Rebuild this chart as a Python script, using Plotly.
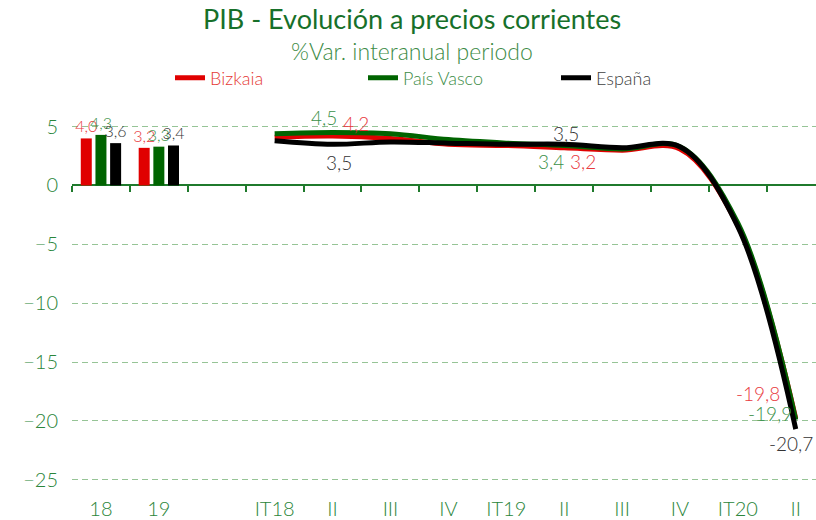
import plotly.graph_objects as go

# ---------------- data ----------------
categories = ["18", "19", "", "IT18", "II", "III", "IV", "IT19", "II", "III", "IV", "IT20", "II"]
annual_idx = [0, 1]
quarter_idx = list(range(3, 13))

series_names = ["Bizkaia", "País Vasco", "España"]

annual_bizkaia = [4.0, 3.2]
annual_pv = [4.3, 3.3]
annual_esp = [3.6, 3.4]

q_bizkaia = [4.1, 4.2, 4.0, 3.5, 3.4, 3.2, 3.0, 3.1, -3.4, -19.8]
q_pv = [4.4, 4.5, 4.4, 3.9, 3.6, 3.4, 3.1, 3.3, -3.2, -19.9]
q_esp = [3.8, 3.5, 3.7, 3.6, 3.5, 3.5, 3.2, 3.3, -3.5, -20.7]

# labelled quarterly points: index in quarterly list -> (xshift, yshift) in px
lab_bizkaia = {1: (23, 13), 5: (19, -14), 9: (-38, 25)}
lab_pv = {1: (-9, 15), 5: (-13, -16), 9: (-26, 6)}
lab_esp = {1: (6, -18), 5: (2, 11), 9: (-5, -14)}

y_ticks = [5, 0, -5, -10, -15, -20, -25]
y_min, y_max = -26.3, 6.5

# ---------------- style ----------------
bar_colors = ["#e00000", "#006400", "#000000"]
label_colors = ["#e8383d", "#3a9048", "#333333"]
legend_colors = ["#e53935", "#3c8c46", "#404040"]
green_tick = "#2a853a"
axis_green = "#1f7a2c"
grid_green = "#96c496"
FONT = "Lato"
M_TOP, M_BOT, H = 109, 25, 520
PLOT_H = H - M_TOP - M_BOT


def fmt(v):
    return f"{v:.1f}".replace(".", ",")


fig = go.Figure()

annuals = [annual_bizkaia, annual_pv, annual_esp]
quarters = [q_bizkaia, q_pv, q_esp]
specs = [lab_bizkaia, lab_pv, lab_esp]

for name, vals, c, lc in zip(series_names, annuals, bar_colors, label_colors):
    fig.add_trace(go.Bar(
        x=annual_idx, y=vals, name=name, legendgroup=name, showlegend=False,
        marker=dict(color=c, line=dict(width=0)),
        text=[fmt(v) for v in vals], textposition="outside",
        textfont=dict(family=FONT, size=16, color=lc, weight=300),
        constraintext="none", cliponaxis=False,
    ))

annotations = []
for name, vals, c, lc, lgc, spec in zip(series_names, quarters, bar_colors, label_colors,
                                        legend_colors, specs):
    fig.add_trace(go.Scatter(
        x=quarter_idx, y=vals, name=f"<span style='color:{lgc}'>{name}</span>",
        legendgroup=name, mode="lines",
        line=dict(color=c, width=5, shape="spline", smoothing=1),
        cliponaxis=False,
    ))
    for i, (dx, dy) in spec.items():
        annotations.append(dict(
            x=quarter_idx[i], y=vals[i], xref="x", yref="y", text=fmt(vals[i]),
            showarrow=False, xanchor="center", yanchor="middle", xshift=dx, yshift=dy,
            font=dict(family=FONT, size=19, color=lc, weight=300),
        ))

annotations.append(dict(
    text="%Var. interanual periodo", xref="paper", yref="paper",
    x=(412 - 72) / 744, y=1 + (M_TOP - 51) / PLOT_H, xanchor="center", yanchor="middle",
    showarrow=False, font=dict(family=FONT, size=23, color="#3d8b46", weight=300),
))

# dummy trace so that the zero-line axis is drawn
fig.add_trace(go.Scatter(x=[None], y=[None], xaxis="x2", showlegend=False, hoverinfo="skip"))

fig.update_layout(
    width=816, height=H,
    margin=dict(l=72, r=0, t=M_TOP, b=M_BOT),
    paper_bgcolor="white", plot_bgcolor="white",
    barmode="group", bargap=0.24, bargroupgap=0.25,
    separators=",.",
    font=dict(family=FONT),
    title=dict(
        text="PIB - Evolución a precios corrientes",
        x=0.505, xanchor="center", y=1 - 20 / H, yanchor="middle", yref="container",
        font=dict(family=FONT, size=27, color="#17702a"),
    ),
    annotations=annotations,
    legend=dict(
        orientation="h", xref="container", x=170 / 816, xanchor="left",
        yref="container", y=1 - 78 / H, yanchor="middle",
        font=dict(family=FONT, size=18, weight=300),
        entrywidth=148, itemwidth=30, bgcolor="rgba(0,0,0,0)",
    ),
    xaxis=dict(
        range=[-0.5, 12.35], tickmode="array", tickvals=list(range(len(categories))),
        ticktext=categories, showgrid=False, zeroline=False, showline=False, ticks="",
        tickfont=dict(family=FONT, size=20, color=green_tick, weight=300),
    ),
    xaxis2=dict(
        overlaying="x", anchor="free", position=(0 - y_min) / (y_max - y_min), side="bottom",
        range=[-0.5, 12.35], tickmode="linear", tick0=-0.5, dtick=1,
        ticks="outside", ticklen=6, tickwidth=2, tickcolor=axis_green,
        showline=True, linecolor=axis_green, linewidth=2,
        showticklabels=False, showgrid=False, zeroline=False, layer="below traces",
    ),
    yaxis=dict(
        range=[y_min, y_max], tickmode="array", tickvals=y_ticks,
        showgrid=True, gridcolor=grid_green, gridwidth=1.2, griddash="6px,4px",
        zeroline=False, showline=False, ticks="", ticklabelstandoff=13,
        tickfont=dict(family=FONT, size=20, color=green_tick, weight=300),
    ),
)

fig.write_html("out.html", config={"displayModeBar": False},
               post_script="document.body.style.margin='0';")
